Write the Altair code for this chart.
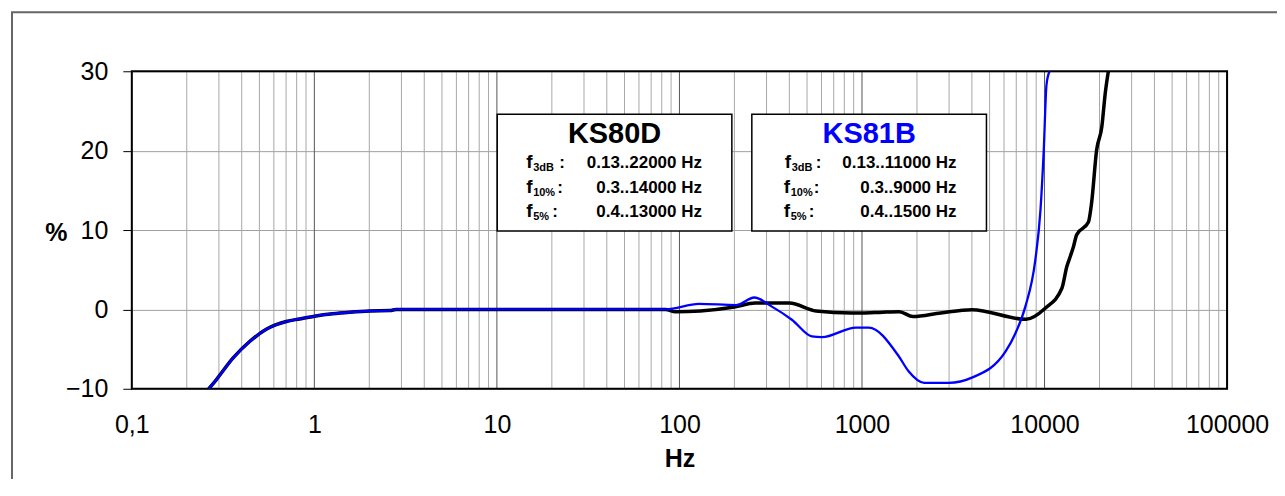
import altair as alt
import pandas as pd

# ---------------- data ----------------
common_f = [0.264, 0.29, 0.358, 0.442, 0.545, 0.702, 0.83, 1.02, 1.26, 1.56, 2.0, 2.6, 2.8, 10, 84]
common_v = [-10, -8.87, -6.14, -4.05, -2.5, -1.53, -1.2, -0.82, -0.55, -0.36, -0.2, -0.15, 0, 0, 0]

ks80d_f = [95, 130, 200, 260, 400, 560, 880, 1000, 1300, 1600, 1900, 2700, 4000, 7900,
           10090, 12450, 13250, 13800, 14400, 15000, 17400, 18100, 19300, 20600, 21500, 22400]
ks80d_v = [-0.3, -0.2, 0.3, 0.8, 0.8, -0.2, -0.45, -0.45, -0.35, -0.3, -0.9, -0.45, -0.05, -1.25,
           0.15, 2.67, 5.4, 6.6, 7.9, 9.4, 11.0, 13.4, 20.1, 23.0, 27.2, 30.1]

ks81b_f = [128, 205, 257, 321, 413, 531, 603, 925, 1090, 1590, 1800, 2190, 2990, 4000,
           6120, 6930, 7850, 8900, 9500, 9900, 10250, 10650]
ks81b_v = [0.7, 0.55, 1.5, 0.35, -1.3, -3.4, -3.5, -2.3, -2.3, -5.9, -7.8, -9.25, -9.25, -8.6,
           -5.3, -3.0, 0.35, 6.2, 12.5, 20, 28.3, 30]

x_ticks = [0.1, 1, 10, 100, 1000, 10000, 100000]
y_ticks = [-10, 0, 10, 20, 30]

box_titles = ["KS80D", "KS81B"]
row_subs = ["3dB", "10%", "5%"]
box_values = [["0.13..22000 Hz", "0.3..14000 Hz", "0.4..13000 Hz"],
              ["0.13..11000 Hz", "0.3..9000 Hz", "0.4..1500 Hz"]]

# ---------------- layout ----------------
W, H = 1097, 318
FONT = "Liberation Sans"

x_scale = alt.Scale(type="log", domain=[0.1, 100000], nice=False)
y_scale = alt.Scale(domain=[-10, 30], nice=False)

x_axis = alt.Axis(values=x_ticks, grid=False, ticks=False, domain=False,
                  labelExpr="datum.value == 0.1 ? '0,1' : format(datum.value, 'd')",
                  labelFont=FONT, labelFontSize=25, labelColor="black", labelPadding=24,
                  labelFlush=False, labelOverlap=False,
                  title="Hz", titleFont=FONT, titleFontSize=25, titleFontWeight="bold",
                  titleColor="black", titleY=70, titleBaseline="middle")
y_axis = alt.Axis(values=y_ticks, grid=True, gridColor="#a0a0a0", gridWidth=1,
                  domain=False, ticks=True, tickSize=9, tickColor="black",
                  labelFont=FONT, labelFontSize=25, labelColor="black", labelPadding=15,
                  title="%", titleAngle=0, titleX=-76, titleY=161, titleAlign="center",
                  titleBaseline="middle", titleFont=FONT, titleFontSize=25,
                  titleFontWeight="bold", titleColor="black")

one = pd.DataFrame({"a": [0]})

def series(fh, vh):
    return pd.DataFrame({"f": common_f + fh, "v": common_v + vh})

minor = [m * d for d in x_ticks[:-1] for m in range(2, 10)]

outer = alt.Chart(one).mark_rect(fillOpacity=0, stroke="#666666", strokeWidth=2).encode(
    x=alt.value(-120), x2=alt.value(W + 300), y=alt.value(-59), y2=alt.value(H + 300))

minor_rules = alt.Chart(pd.DataFrame({"f": minor})).mark_rule(color="#a8a8a8", strokeWidth=1).encode(
    x=alt.X("f:Q", scale=x_scale, axis=x_axis), y=alt.value(0), y2=alt.value(H))

major_rules = alt.Chart(pd.DataFrame({"f": x_ticks})).mark_rule(color="#555555", strokeWidth=1).encode(
    x=alt.X("f:Q", scale=x_scale, axis=x_axis), y=alt.value(0), y2=alt.value(H))

frame = alt.Chart(one).mark_rect(fillOpacity=0, stroke="black", strokeWidth=2).encode(
    x=alt.value(0), x2=alt.value(W), y=alt.value(0), y2=alt.value(H))

black = alt.Chart(series(ks80d_f, ks80d_v)).mark_line(
    clip=True, color="black", strokeWidth=3.5, interpolate="monotone").encode(
    x=alt.X("f:Q", scale=x_scale, axis=x_axis),
    y=alt.Y("v:Q", scale=y_scale, axis=y_axis))

blue = alt.Chart(series(ks81b_f, ks81b_v)).mark_line(
    clip=True, color="#0000FF", strokeWidth=2.3, interpolate="monotone").encode(
    x=alt.X("f:Q", scale=x_scale, axis=x_axis),
    y=alt.Y("v:Q", scale=y_scale, axis=y_axis))

layers = [outer, minor_rules, major_rules, frame, black, blue]

# ---------------- annotation boxes ----------------
box_left = [366, 621]
box_w = 235
title_colors = ["black", "#0000FF"]
f_x = [[395, 395, 395], [654, 653, 653]]
sub_x = [[402, 402, 402], [661, 660, 660]]
colon_x = [[428, 426, 421], [685, 683, 678]]
val_right = [571, 826]
row_base = [97, 122, 146]

for b in range(2):
    layers.append(alt.Chart(one).mark_rect(fill="white", stroke="black", strokeWidth=1.5).encode(
        x=alt.value(box_left[b]), x2=alt.value(box_left[b] + box_w), y=alt.value(43), y2=alt.value(160)))
    layers.append(alt.Chart(one).mark_text(font=FONT, fontSize=29, fontWeight="bold",
                                           color=title_colors[b], align="center", baseline="alphabetic").encode(
        x=alt.value(box_left[b] + box_w / 2), y=alt.value(72), text=alt.value(box_titles[b])))
    for r in range(3):
        layers.append(alt.Chart(one).mark_text(font=FONT, fontSize=19, fontWeight="bold", color="black",
                                               align="left", baseline="alphabetic").encode(
            x=alt.value(f_x[b][r]), y=alt.value(row_base[r]), text=alt.value("f")))
        layers.append(alt.Chart(one).mark_text(font=FONT, fontSize=11, fontWeight="bold", color="black",
                                               align="left", baseline="alphabetic").encode(
            x=alt.value(sub_x[b][r]), y=alt.value(row_base[r] + 3), text=alt.value(row_subs[r])))
        layers.append(alt.Chart(one).mark_text(font=FONT, fontSize=17, fontWeight="bold", color="black",
                                               align="left", baseline="alphabetic").encode(
            x=alt.value(colon_x[b][r]), y=alt.value(row_base[r]), text=alt.value(":")))
        layers.append(alt.Chart(one).mark_text(font=FONT, fontSize=17, fontWeight="bold", color="black",
                                               align="right", baseline="alphabetic").encode(
            x=alt.value(val_right[b]), y=alt.value(row_base[r]), text=alt.value(box_values[b][r])))

chart = alt.layer(*layers).properties(
    width=W, height=H, autosize="none",
    padding={"left": 124, "top": 63, "right": 50, "bottom": 90},
    background="white",
).configure_view(stroke=None)

chart.save("out.html", embed_options={"renderer": "svg", "actions": False})
